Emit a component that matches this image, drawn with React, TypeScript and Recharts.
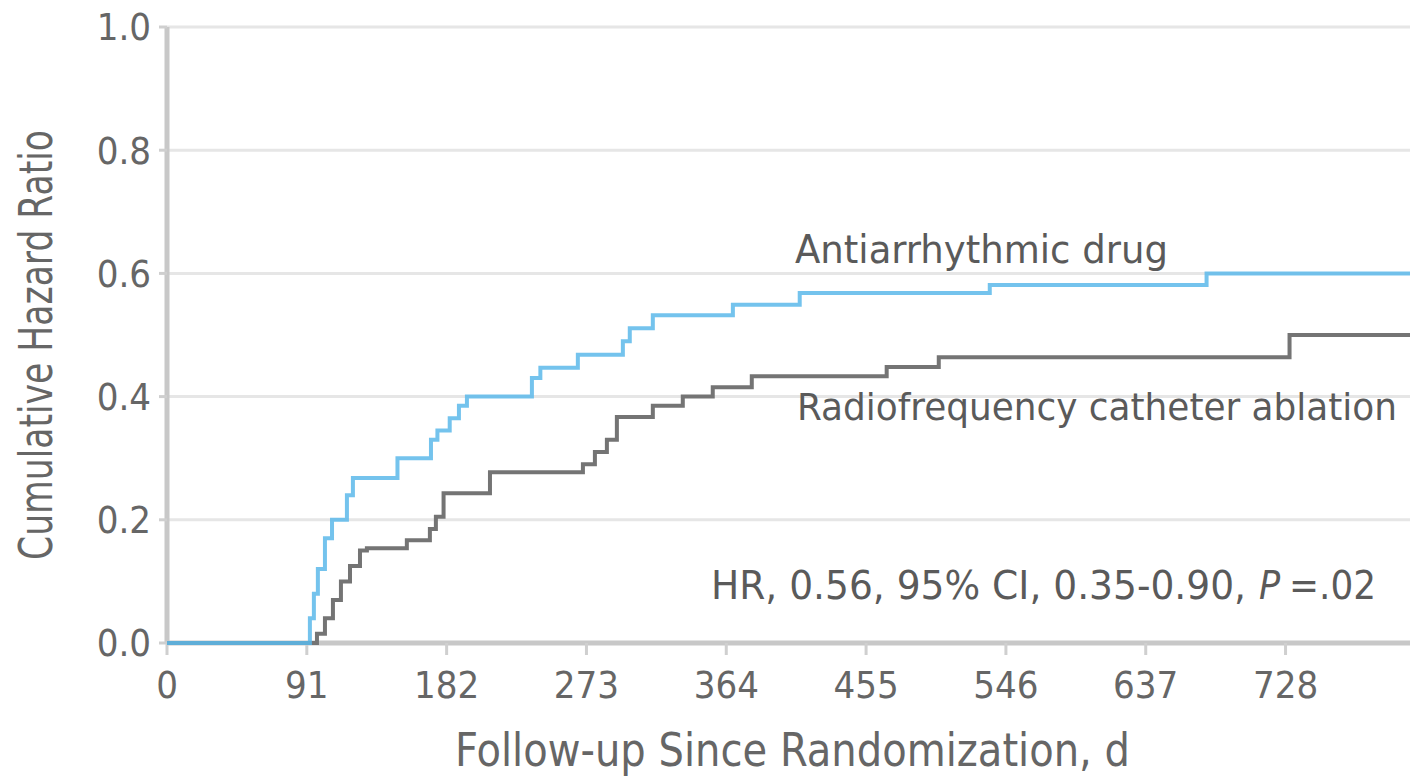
import React from 'react';
import { LineChart, Line, XAxis, YAxis, CartesianGrid } from 'recharts';

// follow-up days where the cumulative hazard steps, and the value after each step
const drugDays = [0, 93, 95.6, 98.2, 102.8, 107.4, 117.1, 121, 150, 171.8, 176, 184, 190, 195.2, 237.5, 243, 267.4, 296.7, 301.2, 316.2, 368.3, 411.8, 535.5, 676.6, 809];
const drugRate = [0, 0.04, 0.08, 0.12, 0.17, 0.2, 0.24, 0.268, 0.3, 0.33, 0.345, 0.365, 0.385, 0.4, 0.43, 0.447, 0.468, 0.49, 0.511, 0.532, 0.549, 0.568, 0.581, 0.6, 0.6];

const ablationDays = [0, 97.6, 102.8, 108, 113.2, 119.1, 125.6, 130.1, 156.1, 171.1, 175, 180, 210.2, 270.7, 278.5, 286.3, 292.8, 316.2, 335.7, 355.2, 380.6, 468.4, 502.3, 730.6, 809];
const ablationRate = [0, 0.015, 0.04, 0.07, 0.1, 0.125, 0.15, 0.154, 0.167, 0.185, 0.205, 0.243, 0.277, 0.29, 0.31, 0.33, 0.367, 0.385, 0.4, 0.415, 0.433, 0.448, 0.464, 0.5, 0.5];

const xTicks = [0, 91, 182, 273, 364, 455, 546, 637, 728];
const yTicks = [0, 0.2, 0.4, 0.6, 0.8, 1.0];

const drugData = drugDays.map((d, i) => ({ day: d, rate: drugRate[i] }));
const ablationData = ablationDays.map((d, i) => ({ day: d, rate: ablationRate[i] }));

const FONT = "'Liberation Sans Narrow', 'Arial Narrow', 'DejaVu Sans Condensed', sans-serif";
const TEXT = '#666666';
const NOTE = '#5a5a5a';

export default function App() {
  return (
    <div style={{ position: 'absolute', left: 0, top: 0, width: 1410, height: 777, background: '#fff' }}>
      <LineChart width={1410} height={777} margin={{ top: 27, right: 0, bottom: 0, left: 0 }}>
        <CartesianGrid vertical={false} stroke="#e6e6e6" strokeWidth={3} />
        <XAxis
          type="number"
          dataKey="day"
          domain={[0, 809]}
          ticks={xTicks}
          allowDataOverflow
          height={134}
          tickSize={12}
          tickMargin={16}
          axisLine={{ stroke: '#c8c8c8', strokeWidth: 5 }}
          tickLine={{ stroke: '#cfcfcf', strokeWidth: 3 }}
          tick={{ fill: TEXT, fontSize: 38, fontFamily: FONT }}
        />
        <YAxis
          type="number"
          domain={[0, 1]}
          ticks={yTicks}
          width={167}
          tickSize={8}
          tickMargin={8}
          tickFormatter={(v: number) => v.toFixed(1)}
          axisLine={{ stroke: '#c8c8c8', strokeWidth: 5 }}
          tickLine={{ stroke: '#cfcfcf', strokeWidth: 3 }}
          tick={{ fill: TEXT, fontSize: 38, fontFamily: FONT }}
        />
        <Line data={ablationData} dataKey="rate" type="stepAfter" stroke="#747474" strokeWidth={4} dot={false} isAnimationActive={false} zIndex={700} />
        <Line data={drugData} dataKey="rate" type="stepAfter" stroke="#5cb8ea" strokeWidth={4} strokeOpacity={0.85} dot={false} isAnimationActive={false} zIndex={710} />
      </LineChart>

      <svg width={1410} height={777} style={{ position: 'absolute', left: 0, top: 0, pointerEvents: 'none' }} fontFamily={FONT}>
        <text x={795} y={263} fontSize={39} fill={NOTE} textLength={373} lengthAdjust="spacingAndGlyphs">Antiarrhythmic drug</text>
        <text x={797} y={420} fontSize={38} fill={NOTE} textLength={600} lengthAdjust="spacingAndGlyphs">Radiofrequency catheter ablation</text>
        <text x={711} y={599} fontSize={39} fill={NOTE} textLength={535} lengthAdjust="spacingAndGlyphs">HR, 0.56, 95% CI, 0.35-0.90,</text>
        <text x={1259} y={599} fontSize={39} fill={NOTE} fontStyle="italic">P</text>
        <text x={1289} y={599} fontSize={39} fill={NOTE} textLength={87} lengthAdjust="spacingAndGlyphs">=.02</text>
        <text x={455} y={766} fontSize={46} fill={TEXT} textLength={675} lengthAdjust="spacingAndGlyphs">Follow-up Since Randomization, d</text>
        <text transform="translate(52, 345) rotate(-90)" textAnchor="middle" fontSize={46} fill={TEXT} textLength={430} lengthAdjust="spacingAndGlyphs">Cumulative Hazard Ratio</text>
      </svg>
    </div>
  );
}
